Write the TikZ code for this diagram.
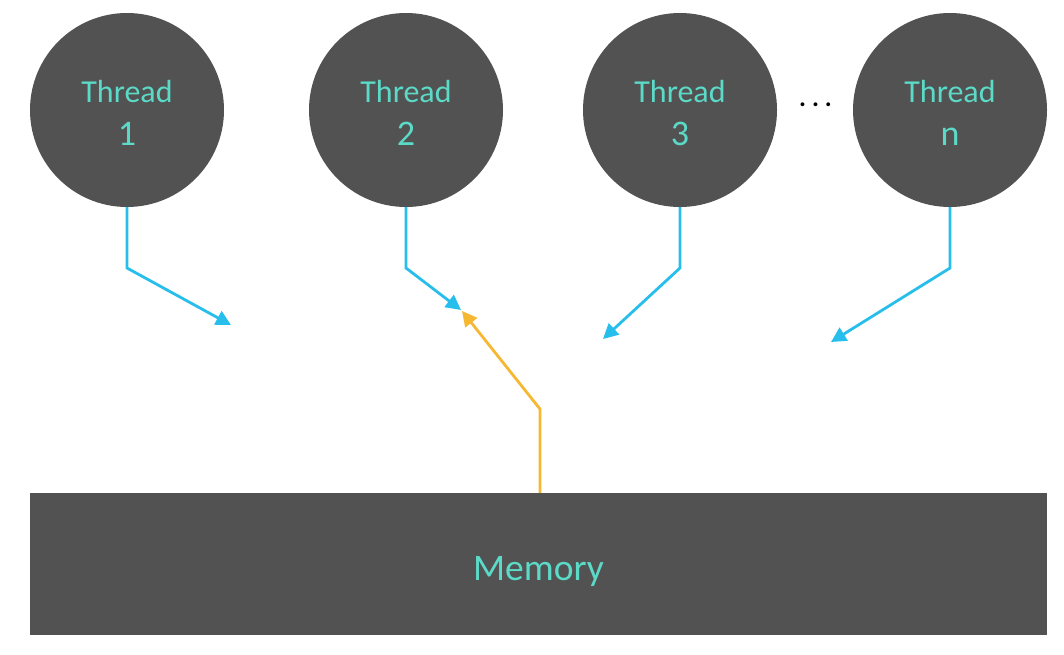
\documentclass[tikz,border=0pt]{standalone}
\usepackage{fontspec}
\setmainfont{Carlito}
\usetikzlibrary{arrows.meta}
\definecolor{boxgray}{RGB}{82,82,82}
\definecolor{tealtext}{RGB}{92,218,200}
\definecolor{linkblue}{RGB}{40,190,236}
\definecolor{linkyellow}{RGB}{246,184,50}
\newcommand{\thr}[1]{\rule{0pt}{28pt}Thread\\{\fontsize{36}{43}\selectfont #1}}
\tikzset{
  thread/.style={circle, fill=boxgray, minimum size=194pt, inner sep=0pt,
    text=tealtext, align=center, font=\fontsize{32}{43}\selectfont},
  membox/.style={rectangle, fill=boxgray, minimum width=1017pt, minimum height=142pt,
    inner sep=0pt, text=tealtext, font=\fontsize{37.5}{40}\selectfont},
  bluelink/.style={draw=linkblue, line width=2.8pt,
    -{Triangle[length=15pt,width=15pt]}},
  yellowlink/.style={draw=linkyellow, line width=2.8pt,
    -{Triangle[length=15pt,width=15pt]}}
}
\begin{document}
\begin{tikzpicture}[x=1pt,y=-1pt]
\useasboundingbox (0,0) rectangle (1064,654);
\node[thread] (t1) at (127,110) {\thr{1}};
\node[thread] (t2) at (406,110) {\thr{2}};
\node[thread] (t3) at (680,110) {\thr{3}};
\node[thread] (tn) at (950,110) {\thr{n}};
\node[font=\fontsize{26}{26}\selectfont\bfseries, inner sep=0pt] (dots) at (815.5,105) {.\kern6pt.\kern6pt.};
\node[membox] (mem) at (538.5,564) {\rule{0pt}{40pt}Memory};
\coordinate (b1) at (127,268);
\coordinate (e1) at (231,325);
\coordinate (b2) at (406,268);
\coordinate (e2) at (461,310);
\coordinate (b3) at (680,268);
\coordinate (e3) at (603,339);
\coordinate (bn) at (950,268);
\coordinate (en) at (831,342);
\coordinate (ym) at (540,409);
\coordinate (ye) at (462,311);
\draw[bluelink] (t1.south) -- (b1) -- (e1);
\draw[bluelink] (t2.south) -- (b2) -- (e2);
\draw[bluelink] (t3.south) -- (b3) -- (e3);
\draw[bluelink] (tn.south) -- (bn) -- (en);
\draw[yellowlink] (mem.north -| ym) -- (ym) -- (ye);
\end{tikzpicture}
\end{document}
